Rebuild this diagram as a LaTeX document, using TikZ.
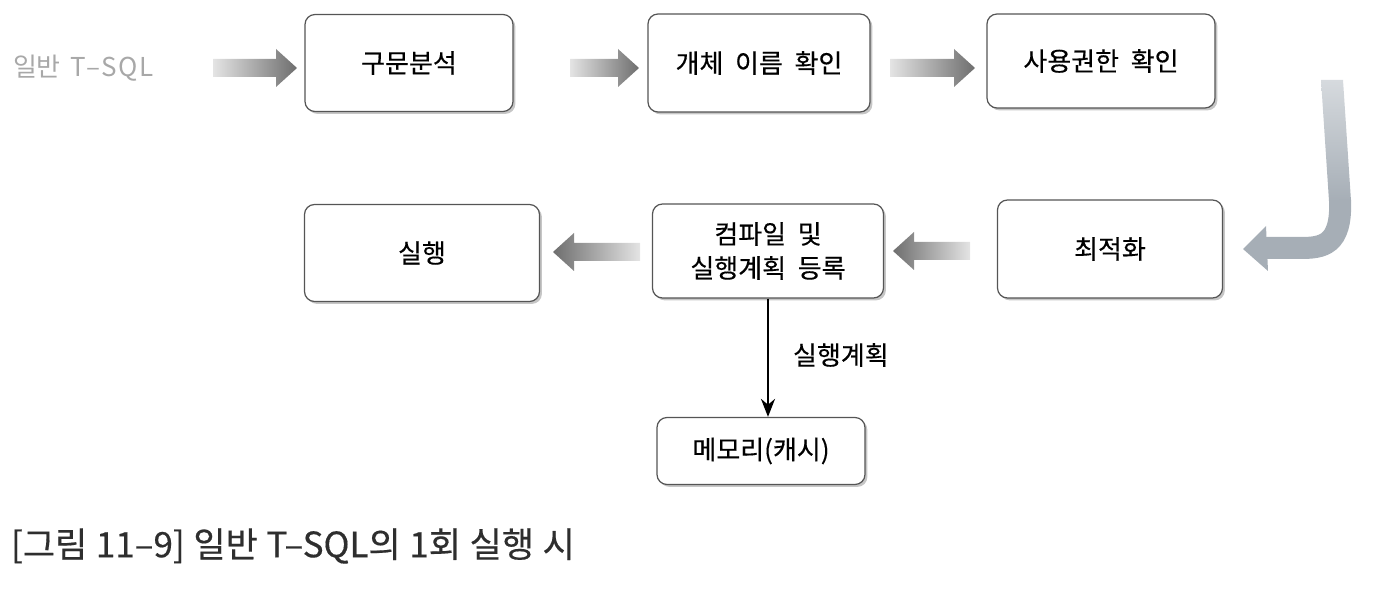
\documentclass[tikz,border=0pt]{standalone}
\usepackage{fontspec}
\setmainfont{Noto Sans CJK KR}
\newfontfamily\boxfont[WordSpace=2,FakeBold=0.35]{Noto Sans CJK KR}
\newfontfamily\capfont[WordSpace=1.1,FakeBold=0.4]{Noto Sans CJK KR}
\usetikzlibrary{calc,arrows.meta,shadows}
\definecolor{boxline}{HTML}{555555}
\definecolor{arrowlight}{HTML}{E4E4E4}
\definecolor{arrowdark}{HTML}{6E6E6E}
\definecolor{curvecol}{HTML}{A6AEB6}
\definecolor{curvelight}{HTML}{D6DADE}
\definecolor{graytext}{HTML}{A8A8A8}
\definecolor{captext}{HTML}{2E2E2E}
\tikzset{
  box/.style={draw=boxline, line width=0.6pt, rounded corners=5pt, fill=white,
    drop shadow={shadow xshift=1.2pt, shadow yshift=-1.2pt, opacity=0.45, fill=gray},
    align=center, inner sep=2pt, font=\boxfont\fontsize{13pt}{17pt}\selectfont},
  lbl/.style={font=\boxfont\fontsize{13pt}{17pt}\selectfont}
}
% right-pointing block arrow from tail #1 to tip #2
\newcommand\blockR[2]{\shade[left color=arrowlight,right color=arrowdark]
  ($(#1)+(0,-9)$) -- ($(#2)+(-21,-9)$) -- ($(#2)+(-21,-19)$) -- (#2) --
  ($(#2)+(-21,19)$) -- ($(#2)+(-21,9)$) -- ($(#1)+(0,9)$) -- cycle;}
% left-pointing block arrow from tail #1 to tip #2
\newcommand\blockL[2]{\shade[left color=arrowdark,right color=arrowlight]
  ($(#1)+(0,-9)$) -- ($(#2)+(21,-9)$) -- ($(#2)+(21,-19)$) -- (#2) --
  ($(#2)+(21,19)$) -- ($(#2)+(21,9)$) -- ($(#1)+(0,9)$) -- cycle;}
\begin{document}
\begin{tikzpicture}[x=0.5pt,y=-0.5pt]
\useasboundingbox (0,0) rectangle (1383,603);
% boxes
\node[box, minimum width=104pt, minimum height=48.5pt] (b1) at (409,63) {구문분석};
\node[box, minimum width=111pt, minimum height=49pt] (b2) at (759,63) {개체 이름 확인};
\node[box, minimum width=114pt, minimum height=47pt] (b3) at (1101,61) {사용권한 확인};
\node[box, minimum width=112.5pt, minimum height=49pt] (b4) at (1110,249) {최적화};
\node[box, minimum width=115.5pt, minimum height=47pt] (b5) at (768,251) {컴파일 및\\실행계획 등록};
\node[box, minimum width=117.5pt, minimum height=48.5pt] (b6) at (422,253) {실행};
\node[box, minimum width=104pt, minimum height=33.5pt] (b7) at (761,451) {메모리(캐시)};
% input text
\node[font=\fontsize{13pt}{17pt}\selectfont, text=graytext, anchor=west] (in) at (6,68) {일반\hspace{5pt}{\addfontfeature{LetterSpace=7}T–SQL}};
% block arrows
\coordinate (a1s) at (213,68); \coordinate (a1e) at (297,68);
\coordinate (a2s) at (570,68); \coordinate (a2e) at (639,68);
\coordinate (a3s) at (890,68); \coordinate (a3e) at (975,68);
\coordinate (a4s) at (970,251); \coordinate (a4e) at (893,251);
\coordinate (a5s) at (640,252); \coordinate (a5e) at (553,252);
\blockR{a1s}{a1e}
\blockR{a2s}{a2e}
\blockR{a3s}{a3e}
\blockL{a4s}{a4e}
\blockL{a5s}{a5e}
% curved arrow from b3 to b4
\coordinate (c1) at (1332,80);
\coordinate (c2) at (1340,200);
\coordinate (c3) at (1300,248);
\coordinate (c4) at (1264,248);
\coordinate (tip) at (1243,249);
\shade[top color=curvelight, bottom color=curvecol] (1321,80) -- (1343,80) -- (1351,201) -- (1329,201) -- cycle;
\draw[line width=11pt, curvecol] (c2) .. controls (1342,246) and (1322,248) .. (c3) -- (c4);
\fill[curvecol] (1266,226) -- (tip) -- (1268,271) -- cycle;
% vertical arrow
\draw[line width=1.2pt, -{Stealth[length=9pt,width=7pt]}] (b5.south) -- (b5.south |- b7.north);
\node[lbl, anchor=west] (plan) at (786,355) {실행계획};
% caption
\node[anchor=west, text=captext, font=\capfont\fontsize{17.5pt}{20pt}\selectfont] (cap) at (4,546) {[그림 11–9] 일반 T–SQL의 1회 실행 시};
\end{tikzpicture}
\end{document}
